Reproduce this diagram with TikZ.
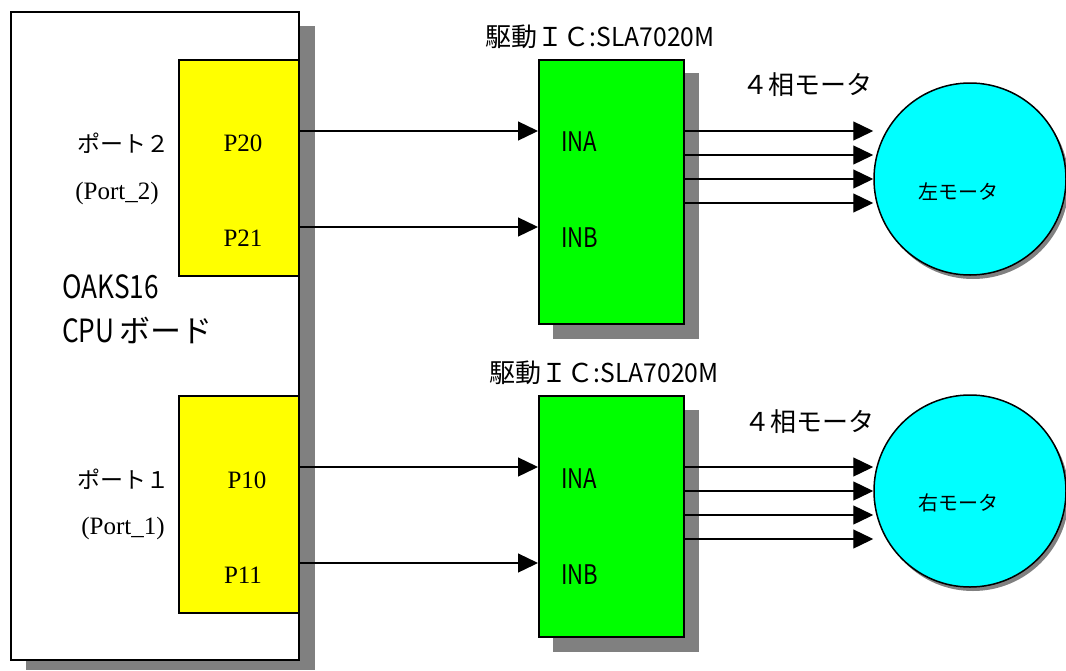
\documentclass[tikz,border=0pt]{standalone}
\usepackage{fontspec}
\setmainfont{Liberation Serif}
\newfontfamily\jp{Noto Sans CJK JP}
\newfontfamily\jpn[FakeStretch=0.82]{Noto Sans CJK JP}
\newfontfamily\jpt[FakeStretch=0.95]{Noto Sans CJK JP}
\usetikzlibrary{arrows.meta,calc}
\definecolor{shadowgray}{HTML}{808080}
\definecolor{portyellow}{HTML}{FFFF00}
\definecolor{icgreen}{HTML}{00FF00}
\definecolor{motorcyan}{HTML}{00FFFF}
\newcommand{\fs}[1]{\fontsize{#1}{#1}\selectfont}
\tikzset{
  boxbase/.style={draw=black, line width=1.5pt, inner sep=0pt, anchor=north west},
  boardbox/.style={boxbase, fill=white},
  portbox/.style={boxbase, fill=portyellow},
  icbox/.style={boxbase, fill=icgreen},
  motor/.style={circle, draw=black, line width=1.5pt, fill=motorcyan, inner sep=0pt, minimum size=192pt},
  shadowfill/.style={fill=shadowgray, draw=none},
  wire/.style={line width=1.3pt, draw=black, -{Triangle[length=20pt,width=19pt]}},
  lbl/.style={inner sep=0pt, text=black},
}
\begin{document}
\begin{tikzpicture}[x=1pt,y=-1pt]
\useasboundingbox (0,0) rectangle (1066,670);
% board
\fill[shadowfill] (26,26) rectangle (315,670);
\node[boardbox, minimum width=288pt, minimum height=648pt] (board) at (10,11) {};
\node[portbox, minimum width=120pt, minimum height=216pt] (p2) at (178,59) {};
\node[portbox, minimum width=120pt, minimum height=217pt] (p1) at (178,395) {};
% ICs
\fill[shadowfill] (553,73) rectangle (699,339);
\node[icbox, minimum width=145pt, minimum height=264pt] (ic1) at (538,59) {};
\fill[shadowfill] (553,410) rectangle (699,652);
\node[icbox, minimum width=145pt, minimum height=241pt] (ic2) at (538,395) {};
% motors
\fill[shadowfill] (973,183) circle (96);
\node[motor] (m1) at (970,179) {};
\fill[shadowfill] (973,495) circle (96);
\node[motor] (m2) at (970,491) {};
% texts board
\node[lbl] (port2) at (123,143) {\jp\fs{23}ポート２};
\node[lbl] (port2e) at (117,193) {\fs{25}(Port\_2)};
\node[lbl] (p20) at (243,143) {\fs{25}P20};
\node[lbl] (p21) at (243,238) {\fs{25}P21};
\node[lbl] (port1) at (123,479) {\jp\fs{23}ポート１};
\node[lbl] (port1e) at (123,528) {\fs{25}(Port\_1)};
\node[lbl] (p10) at (247,480) {\fs{25}P10};
\node[lbl] (p11) at (243,575) {\fs{25}P11};
\node[lbl, anchor=west] (oaks) at (62,287) {\jpn\fs{32}OAKS16};
\node[lbl, anchor=west] (cpu) at (62,330) {\jpn\fs{32}CPU\,{\jp\fs{31}ボード}};
% IC texts
\node[lbl] (t1) at (600,37) {\jp\fs{26}駆動ＩＣ{\jpt:SLA7020M}};
\node[lbl] (t2) at (604,373) {\jp\fs{26}駆動ＩＣ{\jpt:SLA7020M}};
\node[lbl, anchor=west] (ina1) at (561,142) {\jpn\fs{27}INA};
\node[lbl, anchor=west] (inb1) at (561,238) {\jpn\fs{27}INB};
\node[lbl, anchor=west] (ina2) at (561,479) {\jpn\fs{27}INA};
\node[lbl, anchor=west] (inb2) at (561,575) {\jpn\fs{27}INB};
% motor texts
\node[lbl] (ph1) at (807,85) {\jp\fs{26}４相モータ};
\node[lbl] (ph2) at (809,422) {\jp\fs{26}４相モータ};
\node[lbl] (ml) at (958,192) {\jp\fs{20}左モータ};
\node[lbl] (mr) at (958,503) {\jp\fs{20}右モータ};
% wires in
\draw[wire] (p2.east |- 0,131) -- (ic1.west |- 0,131);
\draw[wire] (p2.east |- 0,227) -- (ic1.west |- 0,227);
\draw[wire] (p1.east |- 0,467) -- (ic2.west |- 0,467);
\draw[wire] (p1.east |- 0,563) -- (ic2.west |- 0,563);
% wires out
\foreach \yy in {131,155,179,203}{
  \draw[wire] (ic1.east |- 0,\yy) -- (m1.west |- 0,\yy);
}
\foreach \yy in {467,491,515,539}{
  \draw[wire] (ic2.east |- 0,\yy) -- (m2.west |- 0,\yy);
}
\end{tikzpicture}
\end{document}
